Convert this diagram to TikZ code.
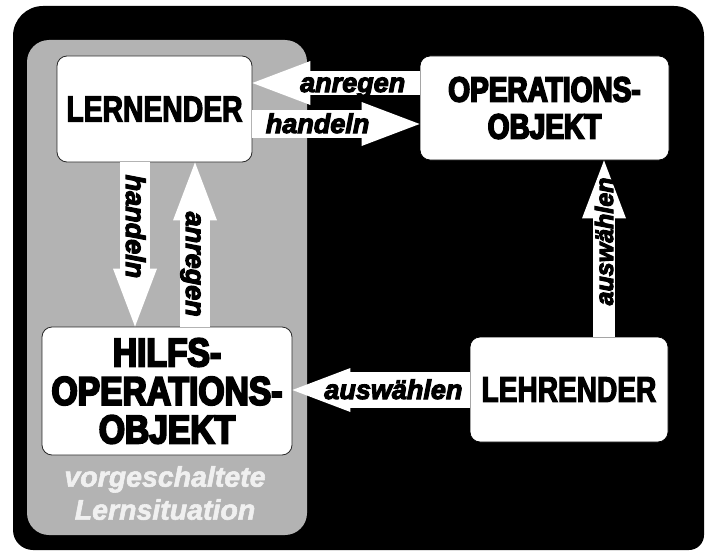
\documentclass[tikz,border=0pt]{standalone}
\usepackage{fontspec}
\setmainfont{Liberation Sans}
\newfontfamily\lernfont{Liberation Sans Bold}[FakeStretch=0.78,FakeBold=3]
\newfontfamily\heavyfont{Liberation Sans Bold}[FakeStretch=0.80,FakeBold=5]
\newfontfamily\heavywide{Liberation Sans Bold}[FakeStretch=0.84,FakeBold=5]
\newfontfamily\labfont{Liberation Sans Bold Italic}[FakeBold=4]
\newfontfamily\sitfont{Liberation Sans Bold Italic}[FakeBold=2]
\usetikzlibrary{arrows.meta,calc}
\definecolor{panelgray}{RGB}{179,179,179}
\definecolor{boxline}{RGB}{40,40,40}
\definecolor{paletext}{RGB}{240,240,240}
\begin{document}
\begin{tikzpicture}[x=1pt,y=-1pt,
  box/.style={rounded corners=10pt, fill=white, draw=boxline, line width=0.8pt, inner sep=0pt, align=center},
  bigarrow/.style={draw=white, line width=#1, -{Triangle[length=58pt,width=44pt,line width=0pt]}},
  lab/.style={font=\labfont\fontsize{27}{27}\selectfont, text height=18pt, text depth=0pt, inner sep=0pt, text=black},
  smalllab/.style={lab, font=\labfont\fontsize{25}{25}\selectfont}
]
\useasboundingbox (0,0) rectangle (706,551);
% outer black panel
\fill[black] (13,300) [rounded corners=30pt] -- (13,6) -- (704,6) -- (704,300) [rounded corners=15pt] -- (704,550) -- (400,550) [rounded corners=20pt] -- (13,550) -- cycle;
% gray panel
\fill[panelgray, rounded corners=22pt] (27,40) rectangle (307,535);

% boxes
\node[box, minimum width=195pt, minimum height=106pt, font=\lernfont\fontsize{36.3}{37}\selectfont] (lern) at (154.5,109) {LERNENDER};
\node[box, draw=black, minimum width=249pt, minimum height=104pt, font=\heavyfont\fontsize{35}{37}\selectfont] (oper) at (544.5,108) {OPERATIONS-\\OBJEKT};
\node[box, minimum width=250pt, minimum height=128pt, font=\heavywide\fontsize{40}{38.5}\selectfont] (hilfs) at (167,391) {HILFS-\\OPERATIONS-\\OBJEKT};
\node[box, draw=black, minimum width=198pt, minimum height=105pt, font=\lernfont\fontsize{36}{37}\selectfont] (lehr) at (569,389.5) {LEHRENDER};

\node[font=\sitfont\fontsize{28.5}{33}\selectfont, text=paletext, align=center, inner sep=0pt] (sit) at (165,493) {vorgeschaltete\\Lernsituation};

% guide coordinates for the arrow lines
\coordinate (yA) at (0,83);
\coordinate (yH) at (0,124);
\coordinate (xH) at (135,0);
\coordinate (xA) at (195,0);
\coordinate (xW) at (604,0);
\coordinate (yW) at (0,390);

% arrows
\draw[bigarrow=24pt] (oper.west |- yA) -- node[lab, pos=0.4] (l1) {anregen} (lern.east |- yA);
\draw[bigarrow=28pt] (lern.east |- yH) -- node[lab, pos=0.39] (l2) {handeln} (oper.west |- yH);
\draw[bigarrow=30pt] (lern.south -| xH) -- node[lab, pos=0.39, rotate=-90] (l3) {handeln} (hilfs.north -| xH);
\draw[bigarrow=30pt] (hilfs.north -| xA) -- node[lab, pos=0.38, rotate=-90] (l4) {anregen} (lern.south -| xA);
\draw[bigarrow=22pt] (lehr.north -| xW) -- node[smalllab, pos=0.54, rotate=90] (l5) {auswählen} (oper.south -| xW);
\draw[bigarrow=36pt] (lehr.west |- yW) -- node[lab, pos=0.43] (l6) {auswählen} (hilfs.east |- yW);
\end{tikzpicture}
\end{document}
